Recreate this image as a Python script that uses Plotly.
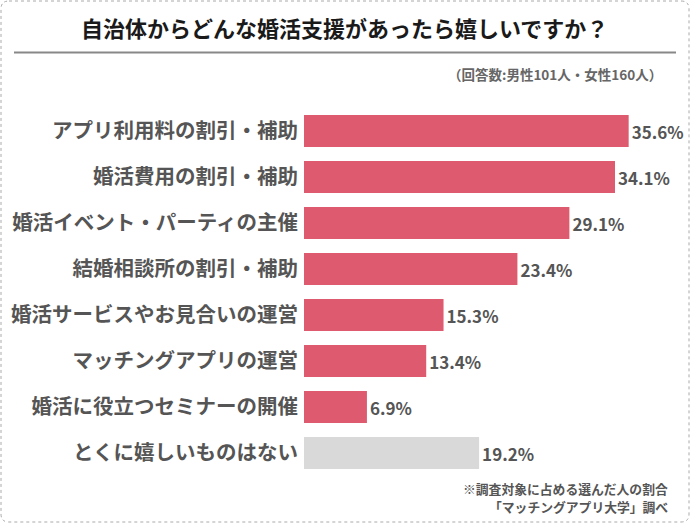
import plotly.graph_objects as go

categories = [
    "アプリ利用料の割引・補助",
    "婚活費用の割引・補助",
    "婚活イベント・パーティの主催",
    "結婚相談所の割引・補助",
    "婚活サービスやお見合いの運営",
    "マッチングアプリの運営",
    "婚活に役立つセミナーの開催",
    "とくに嬉しいものはない",
]
values = [35.6, 34.1, 29.1, 23.4, 15.3, 13.4, 6.9, 19.2]
bar_colors = ["#DE5A6E"] * 7 + ["#D9D9D9"]

title_text = "自治体からどんな婚活支援があったら嬉しいですか？"
subtitle_text = "（回答数:男性101人・女性160人）"
note1 = "※調査対象に占める選んだ人の割合"
note2 = "「マッチングアプリ大学」調べ"

W, H = 690, 523
ML, MR, MT, MB = 304, 30, 108, 47
PW, PH = W - ML - MR, H - MT - MB
FONT = "Noto Sans CJK JP"


def px(x):
    return (x - ML) / PW


def py(y):
    return (H - MB - y) / PH


fig = go.Figure(
    go.Bar(
        x=values,
        y=categories,
        orientation="h",
        marker=dict(color=bar_colors, line=dict(width=0)),
        width=0.7,
        text=[f"{v:.1f}%" for v in values],
        textposition="outside",
        textfont=dict(family=FONT, size=17, color="#555555", weight=700),
        cliponaxis=False,
        hoverinfo="skip",
    )
)

# rounded dotted border
x0, x1, y0, y1, r = 1, 689, 1, 522, 8
path = (
    f"M {px(x0 + r)} {py(y0)} L {px(x1 - r)} {py(y0)} "
    f"Q {px(x1)} {py(y0)} {px(x1)} {py(y0 + r)} "
    f"L {px(x1)} {py(y1 - r)} Q {px(x1)} {py(y1)} {px(x1 - r)} {py(y1)} "
    f"L {px(x0 + r)} {py(y1)} Q {px(x0)} {py(y1)} {px(x0)} {py(y1 - r)} "
    f"L {px(x0)} {py(y0 + r)} Q {px(x0)} {py(y0)} {px(x0 + r)} {py(y0)} Z"
)
fig.add_shape(type="path", path=path, xref="paper", yref="paper",
              line=dict(color="#AAAAAA", width=1, dash="dot"), layer="below")
fig.add_shape(type="line", xref="paper", yref="paper",
              x0=px(14), x1=px(676), y0=py(52.5), y1=py(52.5),
              line=dict(color="#888888", width=2))

fig.add_annotation(text=title_text, xref="paper", yref="paper",
                   x=px(344), y=py(27), xanchor="center", yanchor="middle",
                   showarrow=False,
                   font=dict(family=FONT, size=22, color="#1A1A1A", weight=700))
fig.add_annotation(text=subtitle_text, xref="paper", yref="paper",
                   x=px(664), y=py(74), xanchor="right", yanchor="middle",
                   showarrow=False,
                   font=dict(family=FONT, size=13.5, color="#666666", weight=700))
fig.add_annotation(text=note1, xref="paper", yref="paper",
                   x=px(670), y=py(488), xanchor="right", yanchor="middle",
                   showarrow=False,
                   font=dict(family=FONT, size=12.8, color="#555555", weight=700))
fig.add_annotation(text=note2, xref="paper", yref="paper",
                   x=px(670), y=py(506), xanchor="right", yanchor="middle",
                   showarrow=False,
                   font=dict(family=FONT, size=12.8, color="#555555", weight=700))

fig.update_layout(
    width=W, height=H,
    margin=dict(l=ML, r=MR, t=MT, b=MB, autoexpand=False),
    paper_bgcolor="white", plot_bgcolor="white",
    showlegend=False,
    bargap=0.3,
    xaxis=dict(range=[0, PW / 9.12], visible=False, fixedrange=True),
    yaxis=dict(autorange="reversed", showline=False, showgrid=False,
               ticks="", ticklabelstandoff=5, fixedrange=True,
               tickfont=dict(family=FONT, size=20.5, color="#555555", weight=700)),
)

fig.write_html(
    "out.html",
    config={"displayModeBar": False},
    post_script="document.body.style.margin='0';document.body.style.overflow='hidden';",
)
